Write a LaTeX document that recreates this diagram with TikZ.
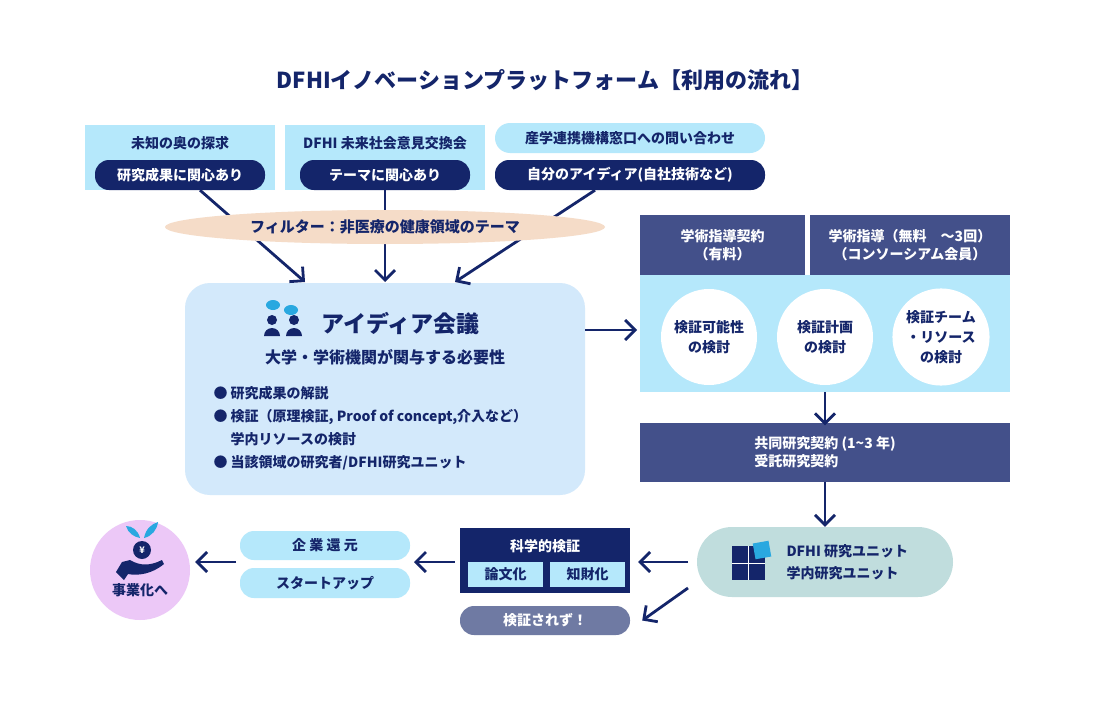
\documentclass[tikz,border=0pt]{standalone}
\usepackage{fontspec}
\setmainfont{Noto Sans CJK JP}
\usetikzlibrary{arrows.meta,positioning,shapes.geometric}
\definecolor{navy}{HTML}{14256A}
\definecolor{midnavy}{HTML}{43508A}
\definecolor{skyb}{HTML}{B5E8FB}
\definecolor{ideab}{HTML}{D3E9FB}
\definecolor{peach}{HTML}{F5DCC8}
\definecolor{teal}{HTML}{C0DDDD}
\definecolor{greyb}{HTML}{6F7AA3}
\definecolor{pinkb}{HTML}{ECC8F7}
\definecolor{iconb}{HTML}{29A8E0}
\tikzset{
  flow/.style={-{Straight Barb[length=10pt,width=20pt]}, line width=2.8pt, navy},
  skybox/.style={fill=skyb, text=navy, font=\fontsize{14}{16}\selectfont\bfseries, align=center},
  darkpill/.style={fill=navy, text=white, rounded corners=14pt, font=\fontsize{14}{16}\selectfont\bfseries},
  headbox/.style={fill=midnavy, text=white, font=\fontsize{14}{18}\selectfont\bfseries, align=center},
  circ/.style={circle, fill=white, minimum size=96pt, text=navy, font=\fontsize{14}{20}\selectfont\bfseries, align=center},
}
\begin{document}
\begin{tikzpicture}[x=1pt,y=-1pt]
\useasboundingbox[fill=white] (0,0) rectangle (1100,720);

% title
\node[text=navy, font=\fontsize{22}{24}\selectfont\bfseries] (title) at (545,80) {DFHIイノベーションプラットフォーム【利用の流れ】};

% entry points
\fill[skyb] (85,125) rectangle (275,190);
\fill[skyb] (285,125) rectangle (485,190);
\node[skybox] (seeds) at (180,143) {未知の奥の探求};
\node[skybox] (forum) at (385,143) {DFHI 未来社会意見交換会};
\node[skybox, rounded corners=15pt, minimum width=270pt, minimum height=30pt] (window) at (630,138) {産学連携機構窓口への問い合わせ};
\node[darkpill, minimum width=170pt, minimum height=30pt] (res) at (180,175) {研究成果に関心あり};
\node[darkpill, minimum width=170pt, minimum height=30pt] (theme) at (385,175) {テーマに関心あり};
\node[darkpill, minimum width=270pt, minimum height=30pt] (own) at (630,175) {自分のアイディア(自社技術など)};

% idea meeting
\node[fill=ideab, rounded corners=25pt, minimum width=400pt, minimum height=212pt] (idea) at (385,389) {};
\coordinate (in1) at (305,282);
\coordinate (in2) at (385,282);
\coordinate (in3) at (455,282);
\draw[flow] (res.south) ++(20,0) -- (in1);
\draw[flow] (theme.south) -- (in2);
\draw[flow] (own.south) ++(-35,0) -- (in3);
\node[ellipse, fill=peach, minimum width=440pt, minimum height=34pt, text=navy, font=\fontsize{15}{17}\selectfont\bfseries] (filter) at (385,227) {フィルター：非医療の健康領域のテーマ};

% people icon
\begin{scope}[navy]
\fill (272,320) circle (5); \fill (264,336) arc[start angle=180, end angle=360, radius=8] -- cycle;
\fill (294,320) circle (5); \fill (286,336) arc[start angle=180, end angle=360, radius=8] -- cycle;
\fill[iconb] (273,305) circle (7 and 5); \fill[iconb] (291,310) circle (7 and 5);
\end{scope}
\node[text=navy, font=\fontsize{23}{25}\selectfont\bfseries, anchor=west] (ititle) at (318,324) {アイディア会議};
\node[text=navy, font=\fontsize{16}{18}\selectfont\bfseries] (isub) at (385,357) {大学・学術機関が関与する必要性};
\node[text=navy, font=\fontsize{14}{23}\selectfont\bfseries, anchor=north west, align=left] (ilist) at (210,383)
{● 研究成果の解説\\● 検証（原理検証, Proof of concept,介入など）\\\phantom{●} 学内リソースの検討\\● 当該領域の研究者/DFHI研究ユニット};

% guidance panel
\node[headbox, minimum width=165pt, minimum height=60pt] (paid) at (722.5,245) {学術指導契約\\（有料）};
\node[headbox, minimum width=200pt, minimum height=60pt] (free) at (910,245) {学術指導（無料　～3回）\\（コンソーシアム会員）};
\fill[skyb] (640,275) rectangle (1010,392);
\node[circ] (c1) at (709,337) {検証可能性\\の検討};
\node[circ] (c2) at (825,337) {検証計画\\の検討};
\node[circ] (c3) at (941,337) {検証チーム\\・リソース\\の検討};
\coordinate (pin) at (637,330);
\draw[flow] (idea.east |- pin) -- (pin);

% contracts
\node[headbox, minimum width=370pt, minimum height=59pt, align=left] (contract) at (825,452) {共同研究契約 (1\textasciitilde 3 年)\\受託研究契約};
\coordinate (pbot) at (825,392);
\draw[flow] (pbot) -- ([yshift=-3pt]contract.north);

% research units
\node[fill=teal, rounded corners=35pt, minimum width=256pt, minimum height=70pt] (unit) at (825,562) {};
\draw[flow] (contract.south) -- (unit.north);
\fill[navy] (732,546) rectangle (765,580);
\draw[white, line width=1pt] (748,546) -- (748,580) (732,563) -- (765,563);
\fill[iconb, rotate around={10:(762,550)}] (754,542) rectangle (770,558);
\node[text=navy, font=\fontsize{14}{22}\selectfont\bfseries, align=left, anchor=west] (utext) at (783,562) {DFHI 研究ユニット\\学内研究ユニット};

% science
\node[fill=navy, minimum width=170pt, minimum height=65pt] (sci) at (545,560.5) {};
\node[text=white, font=\fontsize{14}{16}\selectfont\bfseries] (scit) at (545,546) {科学的検証};
\node[skybox, minimum width=75pt, minimum height=25pt] (paper) at (505.5,574.5) {論文化};
\node[skybox, minimum width=75pt, minimum height=25pt] (ip) at (587.5,574.5) {知財化};
\node[fill=greyb, text=white, rounded corners=14pt, minimum width=170pt, minimum height=29pt, font=\fontsize{14}{16}\selectfont\bfseries] (fail) at (545,620.5) {検証されず！};
\coordinate (u1) at (688,562);
\coordinate (u2) at (688,588);
\draw[flow] (u1) -- ([xshift=8pt]sci.east |- u1);
\draw[flow] (u2) -- ([xshift=12pt]fail.east);

% return
\node[skybox, rounded corners=14pt, minimum width=170pt, minimum height=29pt] (ret) at (325,545.5) {企 業 還 元};
\node[skybox, rounded corners=14pt, minimum width=170pt, minimum height=30pt] (start) at (325,583) {スタートアップ};
\coordinate (s1) at (414,562);
\draw[flow] ([xshift=-5pt]sci.west |- s1) -- (s1);

% business
\node[circle, fill=pinkb, minimum size=100pt] (biz) at (140,570) {};
\coordinate (b1) at (236,562);
\draw[flow] (b1) -- ([xshift=5pt]biz.east |- b1);
\fill[iconb] (144,538) .. controls (146,528) and (152,524) .. (158,522) .. controls (157,530) and (152,536) .. (144,538);
\fill[iconb] (140,538) .. controls (138,530) and (132,526) .. (126,526) .. controls (128,533) and (134,537) .. (140,538);
\fill[navy] (142,550) circle (9);
\node[text=white, font=\fontsize{9}{9}\selectfont\bfseries] (yen) at (142,550) {¥};
\fill[navy] (122,562) -- (130,560) .. controls (140,566) and (150,566) .. (162,560) -- (164,564) .. controls (152,574) and (138,576) .. (128,574) -- (124,580) -- (116,572) -- cycle;
\node[text=navy, font=\fontsize{14}{16}\selectfont\bfseries] (biztext) at (140,590) {事業化へ};
\end{tikzpicture}
\end{document}
